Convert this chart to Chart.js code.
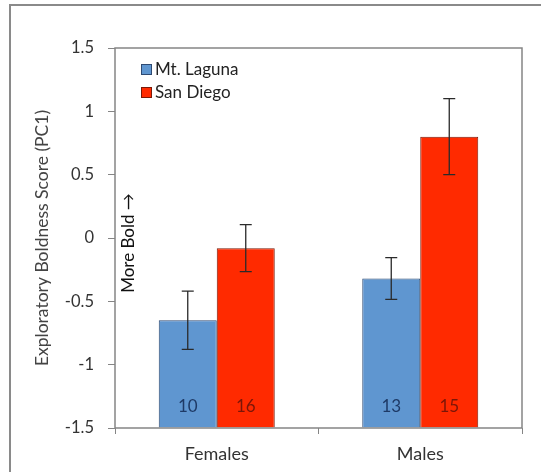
<!DOCTYPE html>
<html>
<head>
<meta charset="utf-8">
<script src="https://cdn.jsdelivr.net/npm/chart.js@4/dist/chart.umd.min.js"></script>
<style>
  html, body { margin: 0; padding: 0; background: #fff; }
  #wrap { position: relative; width: 541px; height: 472px; }
</style>
</head>
<body>
<div id="wrap"><canvas id="chart" width="541" height="472"></canvas></div>
<script>
var categories = ['Females', 'Males'];
var seriesNames = ['Mt. Laguna', 'San Diego'];
var lagunaMeans = [-0.65, -0.32];
var lagunaErr   = [0.23, 0.165];
var lagunaN     = [10, 13];
var diegoMeans  = [-0.08, 0.80];
var diegoErr    = [0.185, 0.30];
var diegoN      = [16, 15];
var yTicks      = [-1.5, -1, -0.5, 0, 0.5, 1, 1.5];

var FONT = 'Lato, "Liberation Sans", sans-serif';
var fillCols   = ['#5f96d0', '#ff2a00'];
var borderCols = ['#2e4a72', '#7a1a08'];
var textCols   = ['#1e3a66', '#7a1608'];
var errs = [lagunaErr, diegoErr];
var counts = [lagunaN, diegoN];

// frame, plot box, error bars, counts, legend, side note
var extras = {
    id: 'extras',
    beforeDraw: function(chart){
        var ctx = chart.ctx;
        ctx.save();
        ctx.strokeStyle = '#8a8a8a';
        ctx.lineWidth = 2;
        ctx.strokeRect(10, 5, 700, 700);
        ctx.restore();
    },
    afterDatasetsDraw: function(chart){
        var ctx = chart.ctx;
        var a = chart.chartArea;
        var yScale = chart.scales.y;
        ctx.save();
        ctx.strokeStyle = '#858585';
        ctx.lineWidth = 1.5;
        ctx.strokeRect(a.left, a.top, a.right - a.left, a.bottom - a.top);

        chart.data.datasets.forEach(function(ds, di){
            var meta = chart.getDatasetMeta(di);
            meta.data.forEach(function(bar, i){
                var v = ds.data[i];
                var yHi = yScale.getPixelForValue(v + errs[di][i]);
                var yLo = yScale.getPixelForValue(v - errs[di][i]);
                ctx.strokeStyle = '#2a2a2a';
                ctx.lineWidth = 1.3;
                ctx.beginPath();
                ctx.moveTo(bar.x, yHi); ctx.lineTo(bar.x, yLo);
                ctx.moveTo(bar.x - 6, yHi); ctx.lineTo(bar.x + 6, yHi);
                ctx.moveTo(bar.x - 6, yLo); ctx.lineTo(bar.x + 6, yLo);
                ctx.stroke();

                ctx.fillStyle = textCols[di];
                ctx.font = '17px ' + FONT;
                ctx.textAlign = 'center';
                ctx.textBaseline = 'middle';
                ctx.fillText(String(counts[di][i]), bar.x, a.bottom - 21);
            });
        });

        // legend
        ctx.font = '17px ' + FONT;
        ctx.textAlign = 'left';
        ctx.textBaseline = 'middle';
        seriesNames.forEach(function(name, i){
            var cy = 70 + i * 23;
            ctx.fillStyle = fillCols[i];
            ctx.fillRect(141, cy - 6, 11, 11);
            ctx.strokeStyle = borderCols[i];
            ctx.lineWidth = 1;
            ctx.strokeRect(141.5, cy - 5.5, 10, 10);
            ctx.fillStyle = '#222';
            ctx.fillText(name, 155, cy);
        });

        // rotated note
        ctx.translate(a.left + 14, 243);
        ctx.rotate(-Math.PI / 2);
        ctx.textAlign = 'center';
        ctx.fillStyle = '#111';
        ctx.font = '17px ' + FONT;
        ctx.fillText('More Bold \u2192', 0, 0);
        ctx.restore();
    }
};

new Chart(document.getElementById('chart'), {
    type: 'bar',
    data: {
        labels: categories,
        datasets: [{
            label: seriesNames[0],
            data: lagunaMeans,
            backgroundColor: fillCols[0],
            borderColor: borderCols[0],
            borderWidth: 1,
            base: -1.5,
            categoryPercentage: 0.57,
            barPercentage: 1.0
        }, {
            label: seriesNames[1],
            data: diegoMeans,
            backgroundColor: fillCols[1],
            borderColor: borderCols[1],
            borderWidth: 1,
            base: -1.5,
            categoryPercentage: 0.57,
            barPercentage: 1.0
        }]
    },
    options: {
        responsive: false,
        animation: false,
        layout: { padding: { top: 48, right: 19, left: 0, bottom: 0 } },
        plugins: {
            legend: { display: false },
            tooltip: { enabled: false }
        },
        scales: {
            x: {
                grid: { display: true, drawOnChartArea: false, drawTicks: true, tickLength: 6, color: '#858585', offset: true },
                border: { display: false },
                ticks: { color: '#333', padding: 9, font: { family: FONT, size: 18 } },
                afterFit: function(scale){ scale.height = 44; }
            },
            y: {
                min: -1.5,
                max: 1.5,
                afterBuildTicks: function(scale){
                    scale.ticks = yTicks.map(function(v){ return { value: v }; });
                },
                grid: { display: true, drawOnChartArea: false, drawTicks: true, tickLength: 7, color: '#858585' },
                border: { display: false },
                ticks: {
                    color: '#333', padding: 14,
                    font: { family: FONT, size: 16.5 },
                    callback: function(v){ return String(v); }
                },
                title: {
                    display: true,
                    text: 'Exploratory Boldness Score (PC1)',
                    color: '#444',
                    font: { family: FONT, size: 17.5 },
                    padding: { top: 32, bottom: 0 }
                },
                afterFit: function(scale){ scale.width = 115; }
            }
        }
    },
    plugins: [extras]
});
</script>
</body>
</html>
